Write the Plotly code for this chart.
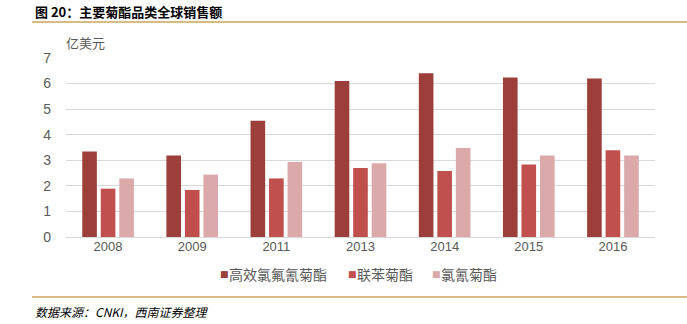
import plotly.graph_objects as go

years = ["2008", "2009", "2011", "2013", "2014", "2015", "2016"]
series_names = ["高效氯氟氰菊酯", "联苯菊酯", "氯氰菊酯"]
v_lambda = [3.34, 3.19, 4.55, 6.10, 6.40, 6.24, 6.20]
v_bifen = [1.89, 1.84, 2.29, 2.70, 2.58, 2.84, 3.39]
v_cyper = [2.29, 2.44, 2.93, 2.88, 3.48, 3.19, 3.19]
colors = ["#9C3F3B", "#C0504E", "#DBA9A9"]

W, H = 687, 324
L, R, T, B = 66, 32, 58, 87
pw, ph = W - L - R, H - T - B

def xp(px):
    return (px - L) / pw

def yp(py):
    return (H - B - py) / ph

fig = go.Figure()
for name, vals, c in zip(series_names, [v_lambda, v_bifen, v_cyper], colors):
    fig.add_trace(go.Bar(x=years, y=vals, name=name, showlegend=False,
                         marker=dict(color=c, line=dict(width=0))))

font_cn = "Noto Sans CJK SC, Noto Sans, sans-serif"

# custom legend (compact square + label), as in the reference
legend_x = [218, 346, 430]
legend_ann = []
for name, c, lx in zip(series_names, colors, legend_x):
    legend_ann.append(dict(text="■", xref="paper", yref="paper", x=xp(lx), y=yp(274),
                           xanchor="left", yanchor="middle", showarrow=False,
                           font=dict(size=9, color=c, family="DejaVu Sans")))
    legend_ann.append(dict(text=name, xref="paper", yref="paper", x=xp(lx + 9), y=yp(274),
                           xanchor="left", yanchor="middle", showarrow=False,
                           font=dict(size=14, color="#595959", family=font_cn)))

fig.update_layout(
    width=W, height=H,
    margin=dict(l=L, r=R, t=T, b=B),
    paper_bgcolor="white", plot_bgcolor="white",
    barmode="group", bargap=0.34, bargroupgap=0.21,
    font=dict(family=font_cn, color="#595959"),
    xaxis=dict(type="category", showgrid=False, showline=False, ticks="",
               tickfont=dict(size=13, color="#595959", family="Liberation Sans, Arial, sans-serif")),
    yaxis=dict(range=[0, 7], dtick=1, showgrid=True, gridcolor="#D9D9D9", gridwidth=1,
               zeroline=True, zerolinecolor="#D9D9D9", zerolinewidth=1, showline=False,
               ticks="", ticklabelstandoff=14,
               tickfont=dict(size=14, color="#595959", family="Liberation Sans, Arial, sans-serif")),
    shapes=[
        dict(type="line", xref="paper", yref="paper", x0=xp(32), x1=xp(687), y0=yp(22), y1=yp(22),
             line=dict(color="#C9A45C", width=1.5)),
        dict(type="line", xref="paper", yref="paper", x0=xp(32), x1=xp(687), y0=yp(297), y1=yp(297),
             line=dict(color="#C9A45C", width=1.5)),
    ],
    annotations=[
        dict(text="<b>图 20：主要菊酯品类全球销售额</b>", xref="paper", yref="paper",
             x=xp(33), y=yp(11), xanchor="left", yanchor="middle", showarrow=False,
             font=dict(size=13, color="#000000", family=font_cn)),
        dict(text="亿美元", xref="paper", yref="paper", x=xp(64), y=yp(42),
             xanchor="left", yanchor="middle", showarrow=False,
             font=dict(size=13, color="#595959", family=font_cn)),
        dict(text="<i>数据来源：CNKI，西南证券整理</i>", xref="paper", yref="paper",
             x=xp(33), y=yp(311), xanchor="left", yanchor="middle", showarrow=False,
             font=dict(size=12, color="#000000", family=font_cn)),
    ] + legend_ann,
)

fig.write_html("out.html")
